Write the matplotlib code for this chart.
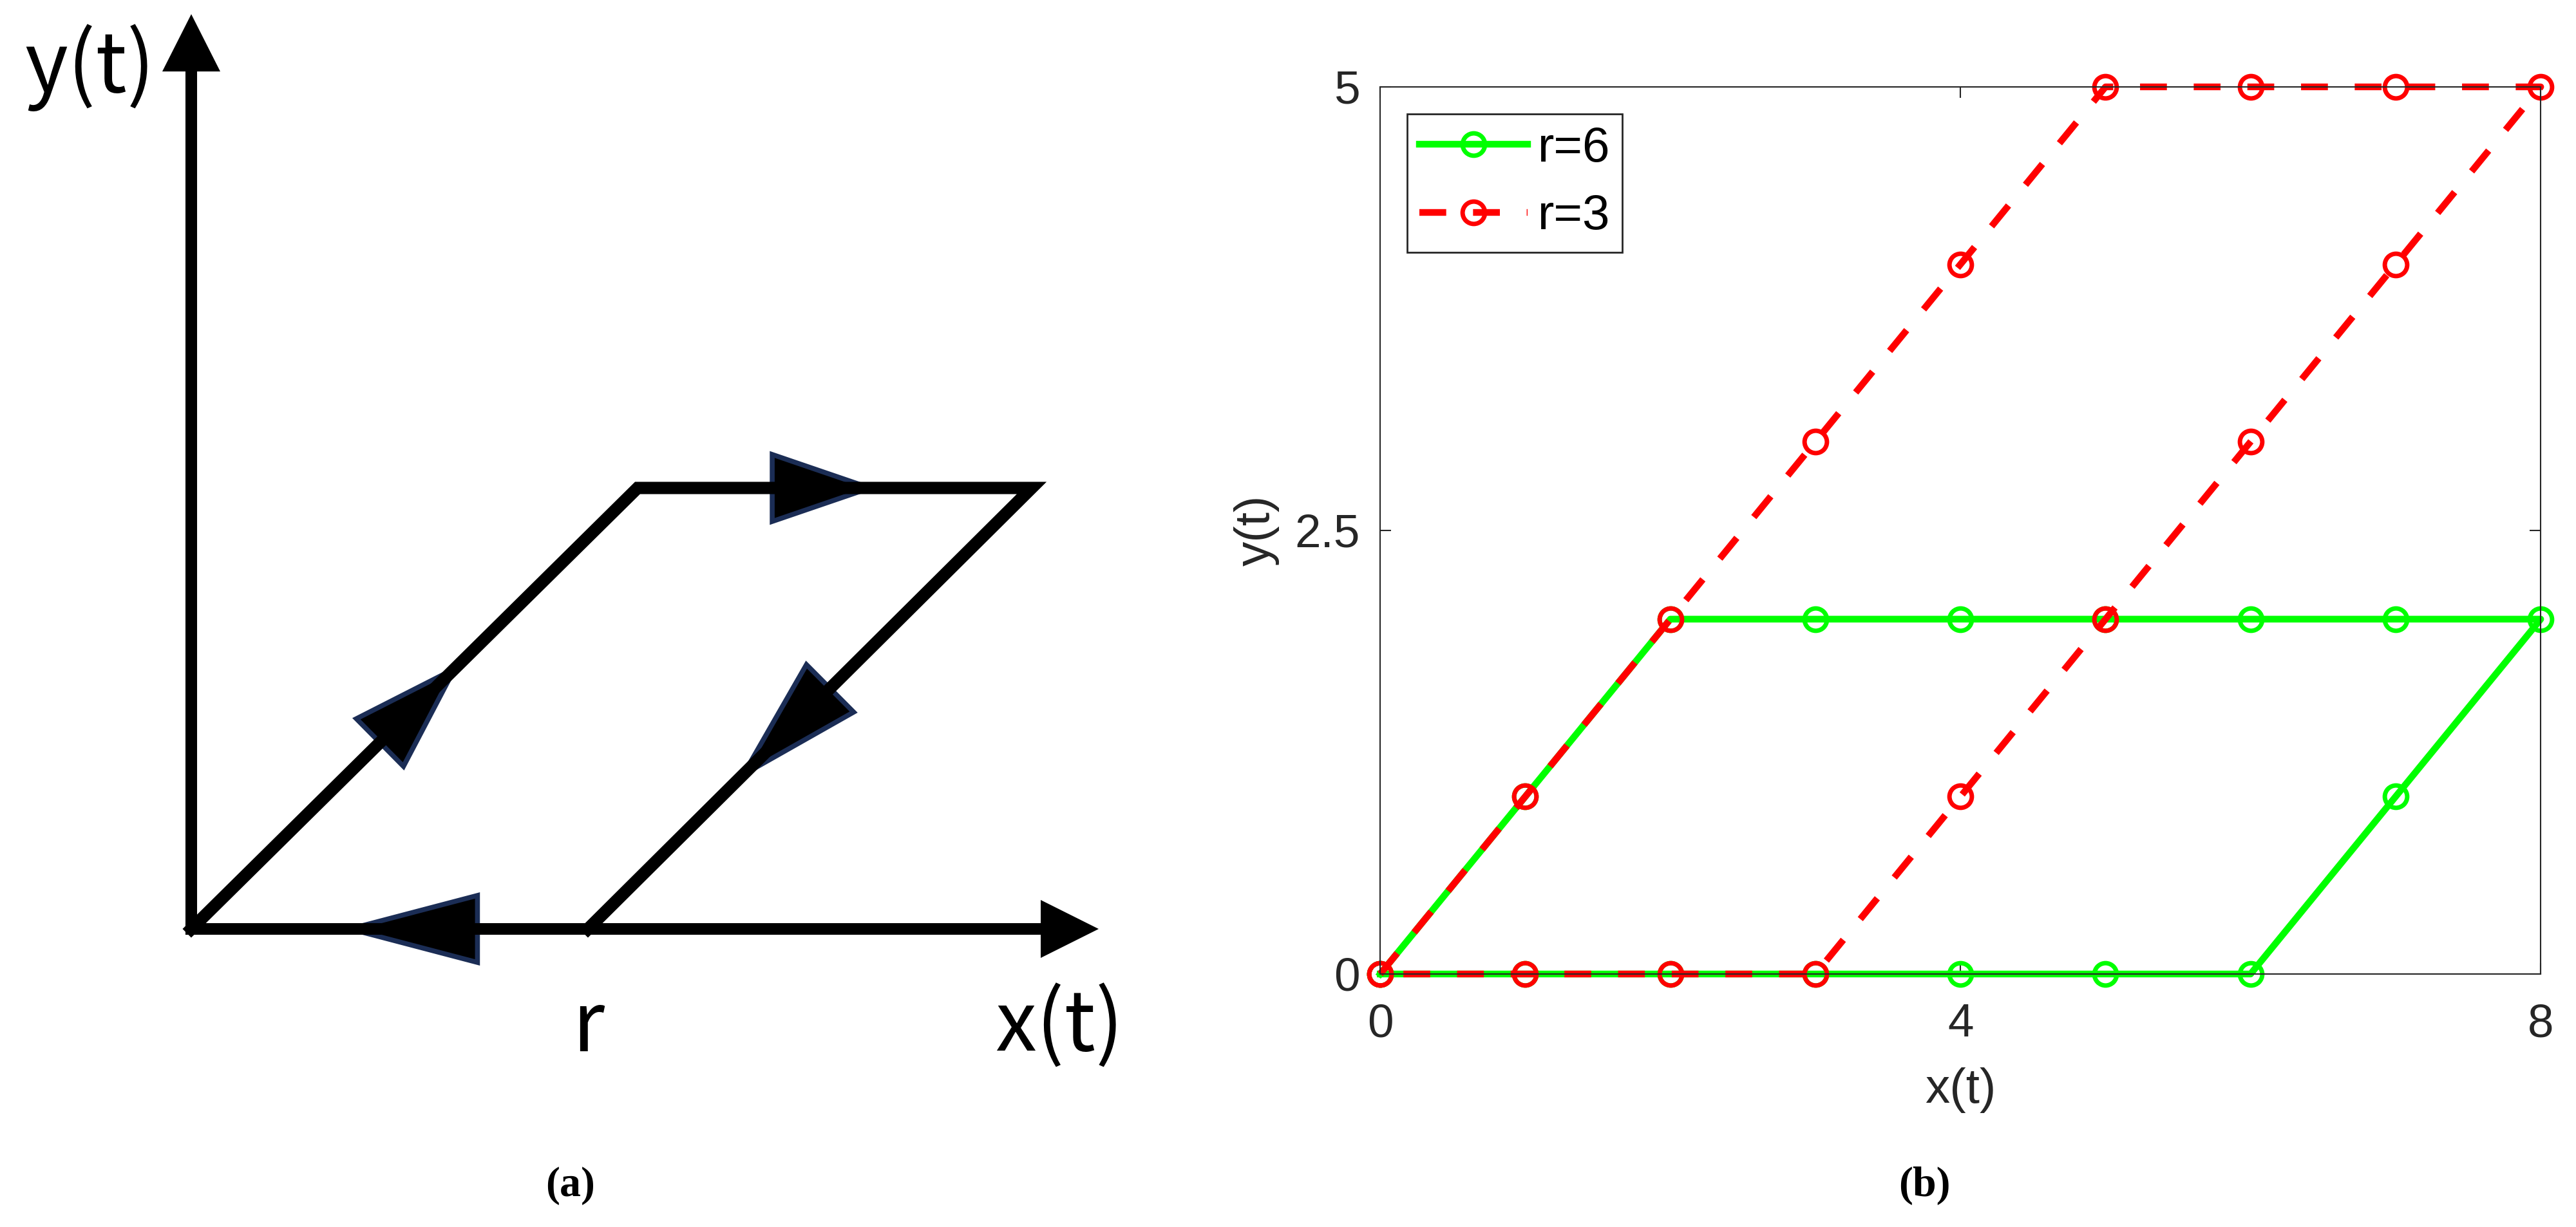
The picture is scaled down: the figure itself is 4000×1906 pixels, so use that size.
import numpy as np
import matplotlib
matplotlib.use('Agg')
from matplotlib import pyplot as plt

# --- schematic (a): hysteresis loop, units of the drawing ---
loop_x = [0.0, 6.93, 13.05, 6.16]
loop_y = [0.0, 6.85, 6.85, 0.0]
axis_len_x = 14.09
axis_len_y = 14.21
# arrowheads on the loop: segment index, position of tip along segment, length
arrow_seg = [0, 1, 2, 3]
arrow_frac = [0.59, 0.59, 0.65, 0.60]
arrow_len = [1.63, 1.52, 1.90, 1.98]

# --- plot (b): trajectories for two values of r ---
x6 = [0, 1, 2, 3, 4, 5, 6, 7, 8, 7, 6, 5, 4, 3, 2, 1, 0]
y6 = [0, 1, 2, 2, 2, 2, 2, 2, 2, 1, 0, 0, 0, 0, 0, 0, 0]
x3 = [0, 1, 2, 3, 4, 5, 6, 7, 8, 7, 6, 5, 4, 3, 2, 1, 0]
y3 = [0, 1, 2, 3, 4, 5, 5, 5, 5, 4, 3, 2, 1, 0, 0, 0, 0]
labels = ['r=6', 'r=3']
xticks = [0, 4, 8]
yticks = [0, 2.5, 5]
xticklabels = ['0', '4', '8']
yticklabels = ['0', '2.5', '5']

dark = '#262626'
navy = '#1B2D55'

fig = plt.figure(figsize=(16, 7.624), dpi=250)

# ---------------- panel (a) ----------------
ax = fig.add_axes([0, 0, 0.5, 1])
ax.set_xlim(-2.97, 17.03)
ax.set_ylim(-4.63, 14.43)
ax.axis('off')

def head(ax, tip, d, length, half, **kw):
    d = np.asarray(d, float)
    d = d / np.hypot(*d)
    n = np.array([-d[1], d[0]])
    tip = np.asarray(tip, float)
    base = tip - d * length
    pts = np.array([tip, base + n * half, base - n * half])
    ax.fill(pts[:, 0], pts[:, 1], **kw)

# coordinate axes with plain black heads
ax.plot([0, 0], [0, axis_len_y - 0.85], color='black', lw=5.2,
        solid_capstyle='projecting')
ax.plot([0, axis_len_x - 0.85], [0, 0], color='black', lw=5.2,
        solid_capstyle='projecting')
head(ax, (0, axis_len_y), (0, 1), 0.89, 0.45, color='black', lw=0)
head(ax, (axis_len_x, 0), (1, 0), 0.90, 0.45, color='black', lw=0)

# the loop itself (bottom piece lies on the x axis)
ax.plot(loop_x, loop_y, color='black', lw=5.5, solid_joinstyle='miter')

lx = loop_x + [loop_x[0]]
ly = loop_y + [loop_y[0]]
for s, f, L in zip(arrow_seg, arrow_frac, arrow_len):
    p0 = np.array([lx[s], ly[s]])
    p1 = np.array([lx[s + 1], ly[s + 1]])
    tip = p0 + f * (p1 - p0)
    head(ax, tip, p1 - p0, L, 0.52, facecolor='black', edgecolor=navy,
         lw=2.2, joinstyle='miter')

sk = dict(family=['Noto Sans CJK KR', 'DejaVu Sans'], fontsize=37)
ax.text(-1.57, 13.0, 'y(t)', ha='center', va='baseline', **sk)
ax.text(13.48, -1.90, 'x(t)', ha='center', va='baseline', **sk)
ax.text(loop_x[3], -1.90, 'r', ha='center', va='baseline', **sk)

# ---------------- panel (b) ----------------
ax2 = fig.add_axes([0.5358, 0.2062, 0.4505, 0.7230])
ax2.plot(x6, y6, '-o', color='#00FF00', lw=3, ms=10, mew=2,
         mfc='none', label=labels[0], clip_on=False)
ax2.plot(x3, y3, ls=(0, (4, 4)), marker='o', color='#FF0000', lw=3,
         ms=10, mew=2, mfc='none', label=labels[1], clip_on=False)
ax2.set_xlim(0, 8)
ax2.set_ylim(0, 5)
ax2.set_xticks(xticks)
ax2.set_xticklabels(xticklabels)
ax2.set_yticks(yticks)
ax2.set_yticklabels(yticklabels)

tf = dict(family=['Liberation Sans', 'DejaVu Sans'])
for t in ax2.get_xticklabels() + ax2.get_yticklabels():
    t.set_fontfamily(tf['family'])
ax2.tick_params(direction='in', length=4.9, width=0.6, top=True,
                right=True, labelsize=21, labelcolor=dark, color=dark)
ax2.tick_params(axis='x', pad=13)
ax2.tick_params(axis='y', pad=9)
for sp in ax2.spines.values():
    sp.set_color(dark)
    sp.set_linewidth(0.6)

ax2.set_xlabel('x(t)', fontsize=22, color=dark, **tf)
ax2.set_ylabel('y(t)', fontsize=22, color=dark, **tf)
ax2.xaxis.set_label_coords(0.5, -0.105)
ax2.yaxis.set_label_coords(-0.087, 0.5)

leg = ax2.legend(loc='upper left', prop={'family': tf['family'], 'size': 22},
                 fancybox=False, edgecolor=dark, framealpha=1,
                 borderaxespad=0.55, borderpad=0.25, handlelength=2.2,
                 handletextpad=0.2, labelspacing=0.45)
leg.get_frame().set_linewidth(0.8)

# captions
cap = dict(family=['Liberation Serif', 'DejaVu Serif'], fontsize=19,
           fontweight='bold', ha='center', va='center')
fig.text(0.2215, 0.0336, '(a)', **cap)
fig.text(0.747, 0.0336, '(b)', **cap)

fig.savefig('out.png', dpi=250, facecolor='white')
